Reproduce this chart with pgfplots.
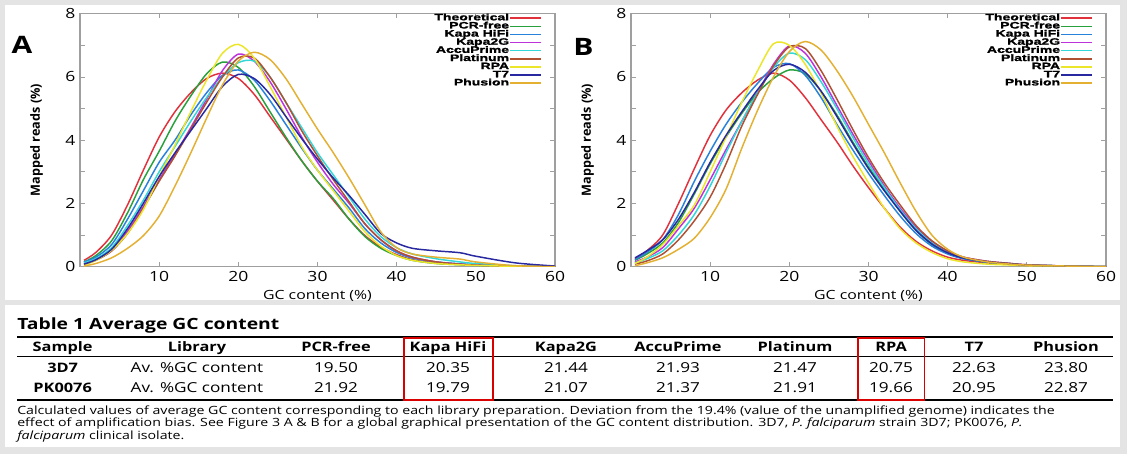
\documentclass[border=0pt]{standalone}
\usepackage{fontspec}
\setmainfont[FakeStretch=1.25]{Open Sans}
\newfontfamily\ylabfont{Open Sans}
\newfontfamily\legfont[FakeStretch=1.5, FakeBold=1.5]{Liberation Sans}
\usepackage{pgfplots}
\usepackage{pgfplotstable}
\pgfplotsset{compat=1.18}

\definecolor{ctheo}{RGB}{225,50,60}
\definecolor{cpcr}{RGB}{40,160,60}
\definecolor{chifi}{RGB}{40,130,220}
\definecolor{ck2g}{RGB}{190,50,220}
\definecolor{caccu}{RGB}{50,215,215}
\definecolor{cplat}{RGB}{175,80,50}
\definecolor{crpa}{RGB}{235,230,40}
\definecolor{ct7}{RGB}{40,40,160}
\definecolor{cphus}{RGB}{228,176,50}
\definecolor{bggray}{RGB}{228,228,228}

% panel A: 3D7
\pgfplotstableread{
x    theo pcr  hifi k2g  accu plat rpa  t7   phus
0.5  0.20 0.15 0.15 0.10 0.12 0.08 0.05 0.08 0.02
2    0.45 0.35 0.30 0.22 0.25 0.20 0.20 0.22 0.10
4    1.00 0.82 0.70 0.50 0.60 0.50 0.52 0.55 0.28
6    1.95 1.70 1.50 1.12 1.30 1.05 1.05 1.20 0.58
8    3.05 2.75 2.40 1.90 2.10 1.85 1.80 2.00 0.98
10   4.10 3.65 3.30 2.75 3.00 2.70 2.85 2.85 1.60
12   4.90 4.60 4.00 3.55 3.80 3.50 3.85 3.60 2.55
14   5.50 5.40 4.80 4.40 4.60 4.35 4.90 4.30 3.60
16   5.95 6.10 5.50 5.30 5.35 5.20 5.90 5.00 4.70
18   6.12 6.47 6.05 6.20 6.00 6.00 6.75 5.70 5.75
20   5.95 6.30 6.22 6.72 6.45 6.60 7.03 6.08 6.50
22   5.45 5.70 5.90 6.50 6.50 6.60 6.60 5.95 6.78
24   4.75 4.90 5.25 5.85 6.00 6.00 5.70 5.45 6.55
26   4.05 4.10 4.50 5.00 5.20 5.20 4.75 4.75 5.95
28   3.35 3.35 3.75 4.10 4.40 4.30 3.80 4.05 5.15
30   2.70 2.70 3.05 3.30 3.60 3.50 3.05 3.40 4.35
32   2.10 2.15 2.45 2.60 2.90 2.75 2.40 2.80 3.60
34   1.50 1.50 1.85 2.00 2.20 2.05 1.75 2.25 2.80
36   0.98 0.95 1.20 1.35 1.50 1.35 1.10 1.65 1.95
38   0.62 0.58 0.75 0.85 0.95 0.85 0.65 1.05 1.10
40   0.38 0.35 0.45 0.50 0.60 0.50 0.35 0.75 0.60
42   0.22 0.20 0.27 0.30 0.40 0.30 0.20 0.58 0.40
45   0.12 0.10 0.15 0.15 0.25 0.15 0.10 0.50 0.30
48   0.07 0.06 0.09 0.08 0.15 0.08 0.06 0.44 0.24
50   0.05 0.04 0.06 0.05 0.10 0.05 0.04 0.33 0.15
55   0.02 0.01 0.02 0.02 0.03 0.02 0.01 0.12 0.03
60   0.00 0.00 0.00 0.00 0.00 0.00 0.00 0.02 0.00
}\dataA

% panel B: PK0076
\pgfplotstableread{
x    theo pcr  hifi k2g  accu plat rpa  t7   phus
0.5  0.25 0.20 0.22 0.15 0.12 0.08 0.10 0.28 0.03
2    0.50 0.40 0.45 0.30 0.25 0.18 0.30 0.50 0.12
4    1.00 0.75 0.85 0.60 0.50 0.40 0.70 0.85 0.28
6    2.00 1.40 1.65 1.20 1.00 0.85 1.30 1.50 0.55
8    3.10 2.30 2.70 1.85 1.65 1.45 1.95 2.35 0.90
10   4.15 3.25 3.65 2.75 2.55 2.20 3.00 3.30 1.55
12   4.95 4.10 4.50 3.70 3.60 3.25 4.10 4.15 2.45
14   5.50 4.85 5.20 4.60 4.60 4.45 5.20 4.90 3.75
16   5.90 5.50 5.80 5.50 5.50 5.45 6.20 5.60 4.95
18   6.12 5.95 6.30 6.40 6.30 6.35 7.05 6.20 6.00
20   5.90 6.22 6.42 6.98 6.75 6.95 7.00 6.40 6.80
22   5.35 6.10 6.05 6.75 6.55 6.90 6.40 6.15 7.12
24   4.65 5.55 5.35 6.00 5.85 6.20 5.50 5.55 6.85
26   3.95 4.80 4.50 5.10 5.00 5.30 4.45 4.75 6.20
28   3.20 3.95 3.70 4.20 4.10 4.35 3.50 3.90 5.40
30   2.50 3.15 2.95 3.35 3.25 3.45 2.65 3.10 4.50
32   1.85 2.45 2.25 2.55 2.50 2.65 1.85 2.40 3.60
34   1.25 1.75 1.60 1.85 1.80 1.95 1.20 1.75 2.65
36   0.80 1.15 1.05 1.25 1.20 1.30 0.75 1.15 1.75
38   0.50 0.70 0.65 0.80 0.75 0.82 0.45 0.72 1.00
40   0.30 0.42 0.40 0.48 0.45 0.50 0.25 0.44 0.55
42   0.20 0.26 0.25 0.30 0.28 0.30 0.15 0.27 0.30
45   0.12 0.14 0.14 0.17 0.15 0.17 0.08 0.15 0.15
48   0.07 0.08 0.08 0.10 0.09 0.10 0.05 0.09 0.08
50   0.04 0.05 0.05 0.06 0.05 0.06 0.03 0.05 0.05
55   0.01 0.02 0.02 0.02 0.02 0.02 0.01 0.02 0.02
60   0.00 0.00 0.00 0.00 0.00 0.00 0.00 0.00 0.00
}\dataB

\pgfplotsset{
  gcaxis/.style={
    scale only axis, width=356.25pt, height=189.75pt,
    xmin=0, xmax=60, ymin=0, ymax=8,
    xtick={10,20,...,60}, ytick={0,2,...,8}, minor y tick num=1,
    axis line style={gray!75, line width=0.9pt},
    tick style={gray!75, line width=0.6pt},
    major tick length=3.5pt, minor tick length=3.5pt,
    /pgf/number format/assume math mode=true,
    tick label style={font=\fontsize{10.5}{12}\selectfont},
    xlabel={GC content (\%)}, ylabel={Mapped reads (\%)},
    xlabel style={font=\fontsize{9.5}{11}\selectfont},
    ylabel style={font=\ylabfont\fontsize{9.5}{11}\selectfont\bfseries},
    ylabel shift=10pt,
    legend plot pos=right, legend cell align=right,
    legend style={draw=none, fill=none, at={(0.98,1.01)}, anchor=north east,
      font=\legfont\fontsize{7}{7}\selectfont\bfseries,
      row sep=0pt, nodes={inner sep=0pt, text height=4.7pt, text depth=1.4pt},
      /tikz/every even column/.style={column sep=4.5pt}},
    legend image code/.code={\draw[#1, line width=1.1pt] (0pt,0pt) -- (23pt,0pt);},
    every axis plot/.append style={line width=1.1pt, smooth},
  }
}

\begin{document}
\begin{tikzpicture}
% page background and white panels
\fill[bggray] (0pt,0pt) rectangle (845.25pt,340.5pt);
\fill[white] (3.75pt,115.5pt) rectangle (840pt,336.75pt);
\fill[white] (3.75pt,5.25pt) rectangle (840pt,111.75pt);

\begin{axis}[gcaxis, at={(60pt,140.5pt)}, anchor=south west]
\addplot[ctheo] table[x=x, y=theo] {\dataA}; \addlegendentry{Theoretical}
\addplot[cpcr]  table[x=x, y=pcr]  {\dataA}; \addlegendentry{PCR-free}
\addplot[chifi] table[x=x, y=hifi] {\dataA}; \addlegendentry{Kapa HiFi}
\addplot[ck2g]  table[x=x, y=k2g]  {\dataA}; \addlegendentry{Kapa2G}
\addplot[caccu] table[x=x, y=accu] {\dataA}; \addlegendentry{AccuPrime}
\addplot[cplat] table[x=x, y=plat] {\dataA}; \addlegendentry{Platinum}
\addplot[crpa]  table[x=x, y=rpa]  {\dataA}; \addlegendentry{RPA}
\addplot[ct7]   table[x=x, y=t7]   {\dataA}; \addlegendentry{T7}
\addplot[cphus] table[x=x, y=phus] {\dataA}; \addlegendentry{Phusion}
\end{axis}

\begin{axis}[gcaxis, at={(473.25pt,140.5pt)}, anchor=south west]
\addplot[ctheo] table[x=x, y=theo] {\dataB}; \addlegendentry{Theoretical}
\addplot[cpcr]  table[x=x, y=pcr]  {\dataB}; \addlegendentry{PCR-free}
\addplot[chifi] table[x=x, y=hifi] {\dataB}; \addlegendentry{Kapa HiFi}
\addplot[ck2g]  table[x=x, y=k2g]  {\dataB}; \addlegendentry{Kapa2G}
\addplot[caccu] table[x=x, y=accu] {\dataB}; \addlegendentry{AccuPrime}
\addplot[cplat] table[x=x, y=plat] {\dataB}; \addlegendentry{Platinum}
\addplot[crpa]  table[x=x, y=rpa]  {\dataB}; \addlegendentry{RPA}
\addplot[ct7]   table[x=x, y=t7]   {\dataB}; \addlegendentry{T7}
\addplot[cphus] table[x=x, y=phus] {\dataB}; \addlegendentry{Phusion}
\end{axis}

% panel letters
\node[font=\fontsize{18}{20}\selectfont\bfseries] at (16.5pt,306.75pt) {A};
\node[font=\fontsize{18}{20}\selectfont\bfseries] at (437.5pt,305.25pt) {B};

% table
\node[anchor=base west, inner sep=0pt, font=\fontsize{11.6}{13}\selectfont\bfseries] at (12.75pt,93.75pt) {Table 1 Average GC content};
\draw[line width=1.5pt] (12.75pt,87.75pt) -- (834.75pt,87.75pt);
\draw[line width=0.9pt] (12.75pt,73pt) -- (834.75pt,73pt);
\draw[line width=1.3pt] (12.75pt,40.5pt) -- (834.75pt,40.5pt);
\begin{scope}[every node/.style={anchor=base, inner sep=0pt, font=\fontsize{10.3}{12}\selectfont}]
\foreach \cx/\head/\ra/\rb in {
  252/PCR-free/19.50/21.92, 336/Kapa HiFi/20.35/19.79, 424.5/Kapa2G/21.44/21.07,
  508.5/AccuPrime/21.93/21.37, 596.25/Platinum/21.47/21.91, 668.25/RPA/20.75/19.66,
  730.5/T7/22.63/20.95, 799.5/Phusion/23.80/22.87} {
  \node[font=\fontsize{9.8}{12}\selectfont\bfseries] at (\cx pt,77.25pt) {\head};
  \node at (\cx pt,61pt) {\ra};
  \node at (\cx pt,46pt) {\rb};
}
\node[font=\fontsize{9.8}{12}\selectfont\bfseries] at (47pt,77.25pt) {Sample};
\node[font=\fontsize{9.8}{12}\selectfont\bfseries] at (147.75pt,77.25pt) {Library};
\node[font=\fontsize{9.8}{12}\selectfont\bfseries] at (47pt,61pt) {3D7};
\node[font=\fontsize{9.8}{12}\selectfont\bfseries] at (47pt,46pt) {PK0076};
\node at (147.75pt,61pt) {Av. \%GC content};
\node at (147.75pt,46pt) {Av. \%GC content};
\end{scope}
\draw[red!85!black, line width=0.8pt] (303pt,40.5pt) rectangle (369.75pt,87pt);
\draw[red!85!black, line width=0.8pt] (643.5pt,40.5pt) rectangle (693.4pt,87pt);

% caption
\begin{scope}[every node/.style={anchor=base west, inner sep=0pt, font=\fontsize{8.5}{10}\selectfont}]
\node at (12.75pt,30pt) {Calculated values of average GC content corresponding to each library preparation. Deviation from the 19.4\% (value of the unamplified genome) indicates the};
\node at (12.75pt,20.5pt) {effect of amplification bias. See Figure 3 A \& B for a global graphical presentation of the GC content distribution. 3D7, \textit{P. falciparum} strain 3D7; PK0076, \textit{P.}};
\node at (12.75pt,11pt) {\textit{falciparum} clinical isolate.};
\end{scope}
\end{tikzpicture}
\end{document}
